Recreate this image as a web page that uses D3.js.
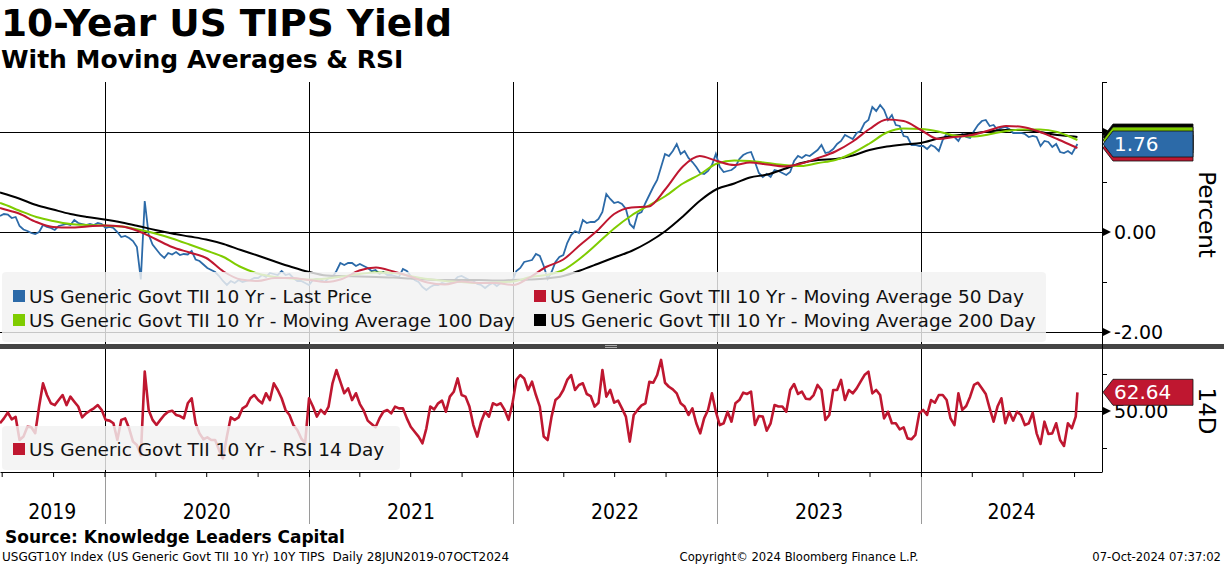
<!DOCTYPE html>
<html>
<head>
<meta charset="utf-8">
<script src="https://cdn.jsdelivr.net/npm/d3@7"></script>
<style>
  body { margin: 0; background: #fff; }
  svg { display: block; }
</style>
</head>
<body>
<svg id="chart" width="1224" height="566"></svg>
<script>
// ---- data ----
// weekly closes (Fridays) starting 28 Jun 2019, 10y TIPS yield in %
var priceStart = "2019-06-28";
var price2019 = [0.32,0.36,0.35,0.28,0.30,0.12,0.05,0.02,-0.02,-0.04,0.00,0.14,0.10,0.08,0.04,0.12,0.14,0.16,0.14,0.24,0.18,0.16,0.14,0.16,0.14,0.18,0.16];
var price2020 = [0.08,0.10,0.08,0.00,-0.10,-0.08,-0.12,-0.18,-0.30,-0.95,0.62,-0.05,-0.25,-0.35,-0.45,-0.52,-0.42,-0.45,-0.40,-0.46,-0.44,-0.45,-0.38,-0.55,-0.58,-0.65,-0.72,-0.76,-0.80,-0.88,-0.98,-1.06,-0.98,-1.02,-0.96,-1.00,-0.98,-0.96,-0.92,-0.92,-0.86,-0.90,-0.82,-0.84,-0.86,-0.78,-0.86,-0.84,-0.92,-0.98,-0.98,-1.02];
var price2021 = [-1.06,-0.96,-0.94,-0.96,-1.00,-0.92,-0.90,-0.78,-0.62,-0.66,-0.62,-0.62,-0.68,-0.64,-0.68,-0.72,-0.78,-0.76,-0.84,-0.80,-0.86,-0.86,-0.88,-0.90,-0.74,-0.78,-0.88,-0.96,-1.00,-1.10,-1.16,-1.10,-1.06,-1.06,-1.02,-1.04,-1.02,-0.98,-0.90,-0.88,-0.92,-0.96,-0.98,-1.04,-1.06,-1.12,-1.06,-1.02,-1.08,-1.02,-1.00,-0.98,-0.98];
var price2022 = [-0.78,-0.72,-0.60,-0.58,-0.56,-0.44,-0.48,-0.68,-0.94,-0.80,-0.60,-0.50,-0.46,-0.22,-0.06,0.02,-0.02,0.24,0.18,0.20,0.20,0.26,0.40,0.76,0.66,0.58,0.60,0.56,0.46,0.16,0.08,0.36,0.40,0.58,0.74,0.90,1.04,1.30,1.56,1.52,1.62,1.76,1.56,1.62,1.48,1.40,1.30,1.18,1.16,1.22,1.34,1.56];
var price2023 = [1.30,1.20,1.22,1.24,1.30,1.46,1.54,1.58,1.60,1.40,1.18,1.10,1.16,1.10,1.24,1.22,1.18,1.14,1.20,1.42,1.52,1.48,1.54,1.52,1.58,1.64,1.74,1.58,1.60,1.66,1.76,1.82,1.94,1.90,1.86,1.98,2.02,2.18,2.24,2.50,2.42,2.54,2.44,2.24,2.34,2.14,2.12,1.92,1.90,1.74,1.74,1.72];
var price2024 = [1.72,1.66,1.74,1.70,1.62,1.84,1.96,1.92,1.90,1.82,1.96,1.90,1.88,2.02,2.14,2.22,2.24,2.12,2.14,2.04,2.08,2.10,2.06,1.98,1.98,1.98,1.96,1.90,1.92,1.90,1.72,1.82,1.80,1.70,1.76,1.60,1.58,1.62,1.56,1.70];

// RSI 14 day, same weekly dates
var rsi2019 = [41.7,45,49,44.4,46,30.4,32.7,39.4,39,35,53,68.7,60.8,55.2,54,57.4,60.8,54,59.7,56.3,53,45.7,48.4,50.2,51.8,54,50.7];
var rsi2020 = [44,43.5,41.7,30.4,44,45,38.3,29.3,27,20,76.6,50.7,44,40.5,44,47.3,49.5,50.2,47.3,46.6,45,55.2,58.6,41.7,34.9,30.9,32.2,30.4,30.4,23.6,18,32.7,45.7,44,45.7,51.8,53.4,58.6,60.8,57.4,55.2,62,57.4,68.7,64.2,58.6,50.7,47.3,40.5,37.2,31.5,28.2];
var rsi2021 = [58.6,53,46.2,50.7,48,53,68.7,77.7,69.8,62,65.3,57.4,62,54.7,50.2,43.5,41.2,39,45,49.5,50.7,48.4,53,51.8,51.8,45,39.4,36,32.7,28.2,38.3,53,51.1,55.2,57,49.5,59.7,63,72,60.8,59.7,53,40.5,32.7,42.8,49.5,46.2,55.2,54,55.2,50.7,44,55];
var rsi2022 = [71,74.3,72,64.2,69.8,60.8,53,32.7,30.4,46.2,57.4,59.7,64.2,71,74.3,64.2,67.6,68.7,61.5,60.1,53,55.6,77.7,59.7,64.2,55.6,57,51.8,46.2,29.3,47.3,50.7,53.8,55.2,69.8,69.1,74.3,84.5,69.1,66.4,64.6,61.9,55.2,53,47.3,51.8,41.7,34.9,45,50.7,61.9,49.5];
var rsi2023 = [40.5,41.7,49.5,42.8,55.2,57.4,62.4,61.5,63.1,40.5,46.6,46.2,36.7,41.7,54,53,53,49.5,64.2,68.2,61.5,63.1,58.3,57.9,60.8,67.6,64.2,43.9,47.3,64.2,64.2,71,57.4,64.2,61.9,65.3,69.8,74.3,76.6,61.9,64.2,60.8,45,49.5,41.7,41.7,37.6,39,31.5,30.9,33.8,48.4];
var rsi2024 = [50.7,47.3,57.4,55.6,60.8,60.8,57.4,45,40.5,61.9,50.7,53.4,59.7,67.6,69.1,65.3,61.5,51.8,42.8,53,58.6,41.7,49.5,43.5,49.5,47.3,40.5,41.7,48.9,34.9,27.7,42.8,34.5,34.9,41.7,30.4,26.4,41.7,38.3,46.2];

var lastDate = "2024-10-07";
var lastPrice = 1.76;
var lastRsi = 62.64;

// moving averages: 28 Jun 2019, then the 1st of each month Jul 2019 .. Oct 2024, then 7 Oct 2024
var ma50 = [0.48, 0.47,0.37,0.20,0.10,0.09,0.11,
  0.13,0.11,0.02,-0.14,-0.30,-0.41,-0.52,-0.79,-0.95,-0.98,-0.92,-0.92,
  -0.96,-1.00,-0.94,-0.77,-0.71,-0.79,-0.89,-1.01,-1.05,-0.99,-1.02,-1.02,
  -1.06,-0.90,-0.70,-0.55,-0.26,0.03,0.36,0.49,0.51,0.86,1.31,1.52,
  1.42,1.34,1.39,1.35,1.31,1.37,1.48,1.61,1.81,2.06,2.25,2.22,
  2.04,1.86,1.90,1.94,2.03,2.12,2.10,2.00,1.86,1.71, 1.68];
var ma100 = [0.58, 0.57,0.43,0.30,0.22,0.16,0.14,
  0.13,0.11,0.05,-0.03,-0.13,-0.25,-0.37,-0.50,-0.70,-0.83,-0.90,-0.93,
  -0.95,-0.93,-0.89,-0.84,-0.81,-0.82,-0.88,-0.94,-0.98,-1.00,-1.02,-1.01,
  -0.99,-0.90,-0.86,-0.76,-0.53,-0.23,0.07,0.33,0.53,0.72,0.97,1.15,
  1.37,1.43,1.42,1.38,1.34,1.32,1.38,1.44,1.58,1.77,1.99,2.07,
  2.06,2.01,1.93,1.91,1.95,2.02,2.05,2.05,2.00,1.87, 1.84];
var ma200 = [0.79, 0.78,0.67,0.54,0.45,0.36,0.30,
  0.25,0.19,0.12,0.04,-0.03,-0.09,-0.15,-0.24,-0.36,-0.47,-0.59,-0.70,
  -0.80,-0.87,-0.88,-0.89,-0.90,-0.91,-0.93,-0.95,-0.96,-0.96,-0.96,-0.97,
  -0.96,-0.95,-0.93,-0.88,-0.77,-0.64,-0.51,-0.38,-0.20,0.02,0.31,0.62,
  0.86,0.97,1.09,1.15,1.26,1.38,1.44,1.46,1.53,1.64,1.71,1.75,
  1.78,1.87,1.93,1.97,2.01,2.04,2.04,2.00,1.94,1.91, 1.90];

var years = ["2019","2020","2021","2022","2023","2024"];
var priceTicks = [3, 2, 1, 0, -1, -2];
var priceGrid = [2, 0, -2];
var priceLabels = [0, -2];
var rsiTicks = [75, 50, 25];
var rsiLabels = [50];

// ---- setup ----
var FONT = "'DejaVu Sans', Verdana, sans-serif";
var COND = "'DejaVu Sans Condensed', 'DejaVu Sans', sans-serif";
var BLUE = "#2c6aa8", RED = "#bf1730", GREEN = "#7fcc00", BLACK = "#000";

var svg = d3.select("#chart");
var parseDate = d3.timeParse("%Y-%m-%d");

var plotRight = 1102, topY0 = 82, topY1 = 344, botY0 = 349, botY1 = 472;

var x = d3.scaleTime()
  .domain([parseDate("2019-06-28"), parseDate("2024-11-20")])
  .range([0, plotRight]);
var yTop = d3.scaleLinear().domain([-2, 2]).range([332, 132]);
var yRsi = d3.scaleLinear().domain([25, 75]).range([448, 374]);

var start = parseDate(priceStart);
var priceVals = [].concat(price2019, price2020, price2021, price2022, price2023, price2024);
var rsiVals = [].concat(rsi2019, rsi2020, rsi2021, rsi2022, rsi2023, rsi2024);
var weekDates = priceVals.map(function(v, i) { return d3.timeDay.offset(start, 7 * i); });

var priceData = priceVals.map(function(v, i) { return [weekDates[i], v]; });
priceData.push([parseDate(lastDate), lastPrice]);
var rsiData = rsiVals.map(function(v, i) { return [weekDates[i], v]; });
rsiData.push([parseDate(lastDate), lastRsi]);

var maDates = [parseDate("2019-06-28")]
  .concat(d3.timeMonth.range(new Date(2019, 6, 1), new Date(2024, 10, 1)))
  .concat([parseDate(lastDate)]);
function maSeries(vals) { return vals.map(function(v, i) { return [maDates[i], v]; }); }

// ---- titles ----
svg.append("text").attr("x", 1).attr("y", 36)
  .style("font-family", FONT).style("font-weight", "bold").style("font-size", "37.5px")
  .text("10-Year US TIPS Yield");
svg.append("text").attr("x", 1).attr("y", 68)
  .style("font-family", FONT).style("font-weight", "bold").style("font-size", "25px")
  .text("With Moving Averages & RSI");

// ---- clips ----
var defs = svg.append("defs");
defs.append("clipPath").attr("id", "clipTop").append("rect")
  .attr("x", 0).attr("y", topY0).attr("width", plotRight).attr("height", topY1 - topY0);
defs.append("clipPath").attr("id", "clipBot").append("rect")
  .attr("x", 0).attr("y", botY0).attr("width", plotRight).attr("height", botY1 - botY0);

// ---- gridlines ----
var grid = svg.append("g").attr("shape-rendering", "crispEdges");
grid.selectAll(".hgTop").data(priceGrid).enter().append("line")
  .attr("x1", 0).attr("x2", plotRight)
  .attr("y1", function(d) { return Math.round(yTop(d)) + 0.5; })
  .attr("y2", function(d) { return Math.round(yTop(d)) + 0.5; })
  .attr("stroke", "#000");
grid.selectAll(".hgBot").data(rsiLabels).enter().append("line")
  .attr("x1", 0).attr("x2", plotRight)
  .attr("y1", function(d) { return Math.round(yRsi(d)) + 0.5; })
  .attr("y2", function(d) { return Math.round(yRsi(d)) + 0.5; })
  .attr("stroke", "#000");
var yearStarts = years.slice(1).map(function(y) { return parseDate(y + "-01-01"); });
grid.selectAll(".vg").data(yearStarts).enter().append("line")
  .attr("x1", function(d) { return Math.round(x(d)) + 0.5; })
  .attr("x2", function(d) { return Math.round(x(d)) + 0.5; })
  .attr("y1", topY0).attr("y2", botY1)
  .attr("stroke", "#000");
grid.selectAll(".vgAxis").data(yearStarts).enter().append("line")
  .attr("x1", function(d) { return Math.round(x(d)) + 0.5; })
  .attr("x2", function(d) { return Math.round(x(d)) + 0.5; })
  .attr("y1", botY1).attr("y2", 524)
  .attr("stroke", "#9a9a9a");

// ---- top panel lines ----
var line = d3.line()
  .x(function(d) { return x(d[0]); })
  .y(function(d) { return yTop(d[1]); });
var smooth = d3.line()
  .x(function(d) { return x(d[0]); })
  .y(function(d) { return yTop(d[1]); })
  .curve(d3.curveMonotoneX);

var topG = svg.append("g").attr("clip-path", "url(#clipTop)");
topG.append("path").datum(priceData).attr("d", line)
  .attr("fill", "none").attr("stroke", BLUE).attr("stroke-width", 1.8);
topG.append("path").datum(maSeries(ma200)).attr("d", smooth)
  .attr("fill", "none").attr("stroke", BLACK).attr("stroke-width", 2);
topG.append("path").datum(maSeries(ma100)).attr("d", smooth)
  .attr("fill", "none").attr("stroke", GREEN).attr("stroke-width", 2);
topG.append("path").datum(maSeries(ma50)).attr("d", smooth)
  .attr("fill", "none").attr("stroke", RED).attr("stroke-width", 2);

// ---- bottom panel line ----
var rsiLine = d3.line()
  .x(function(d) { return x(d[0]); })
  .y(function(d) { return yRsi(d[1]); });
svg.append("g").attr("clip-path", "url(#clipBot)")
  .append("path").datum(rsiData).attr("d", rsiLine)
  .attr("fill", "none").attr("stroke", RED).attr("stroke-width", 2.6)
  .attr("stroke-linejoin", "round");

// ---- legends ----
var legTop = [
  { name: "US Generic Govt TII 10 Yr - Last Price", color: BLUE, col: 0, row: 0 },
  { name: "US Generic Govt TII 10 Yr - Moving Average 50 Day", color: RED, col: 1, row: 0 },
  { name: "US Generic Govt TII 10 Yr - Moving Average 100 Day", color: GREEN, col: 0, row: 1 },
  { name: "US Generic Govt TII 10 Yr - Moving Average 200 Day", color: BLACK, col: 1, row: 1 }
];
svg.append("rect").attr("x", 2).attr("y", 272).attr("width", 1044).attr("height", 70)
  .attr("rx", 4).attr("fill", "#f2f2f2").attr("fill-opacity", 0.82);
var lt = svg.append("g").selectAll("g").data(legTop).enter().append("g")
  .attr("transform", function(d) { return "translate(" + (d.col ? 534 : 13) + "," + (290 + d.row * 24) + ")"; });
lt.append("rect").attr("width", 12).attr("height", 12).attr("fill", function(d) { return d.color; });
lt.append("text").attr("x", 16).attr("y", 13)
  .style("font-family", FONT).style("font-size", "18.5px").style("fill", "#111")
  .text(function(d) { return d.name; });

svg.append("rect").attr("x", 2).attr("y", 426).attr("width", 398).attr("height", 44)
  .attr("rx", 4).attr("fill", "#f2f2f2").attr("fill-opacity", 0.82);
var lb = svg.append("g").attr("transform", "translate(13,443)");
lb.append("rect").attr("width", 12).attr("height", 12).attr("fill", RED);
lb.append("text").attr("x", 16).attr("y", 13)
  .style("font-family", FONT).style("font-size", "18.5px").style("fill", "#111")
  .text("US Generic Govt TII 10 Yr - RSI 14 Day");

// ---- separator between panels ----
svg.append("rect").attr("x", 0).attr("y", 344).attr("width", 1224).attr("height", 5).attr("fill", "#454545");
svg.append("line").attr("x1", 605).attr("x2", 617).attr("y1", 345.5).attr("y2", 345.5).attr("stroke", "#aaa");
svg.append("line").attr("x1", 605).attr("x2", 617).attr("y1", 347.5).attr("y2", 347.5).attr("stroke", "#aaa");

// ---- right axes ----
function fmt(labels) { return function(d) { return labels.indexOf(d) >= 0 ? d.toFixed(2) : ""; }; }
var axTop = svg.append("g").attr("transform", "translate(" + plotRight + ",0)")
  .call(d3.axisRight(yTop).tickValues(priceTicks).tickSize(5).tickPadding(7).tickFormat(fmt(priceLabels)));
var axBot = svg.append("g").attr("transform", "translate(" + plotRight + ",0)")
  .call(d3.axisRight(yRsi).tickValues(rsiTicks).tickSize(5).tickPadding(7).tickFormat(fmt(rsiLabels)));
[axTop, axBot].forEach(function(a) {
  a.select(".domain").remove();
  a.selectAll("text").style("font-family", FONT).style("font-size", "19px").style("fill", "#000");
  a.selectAll("line").attr("stroke", "#000");
});
svg.append("line").attr("x1", plotRight + 0.5).attr("x2", plotRight + 0.5)
  .attr("y1", topY0).attr("y2", botY1).attr("stroke", "#000");

var marks = priceGrid.map(function(d) { return yTop(d); }).concat(rsiLabels.map(function(d) { return yRsi(d); }));
svg.selectAll(".tri").data(marks).enter().append("path")
  .attr("d", function(y) { return "M" + (plotRight + 1) + "," + (y - 4) + "L" + (plotRight + 9) + "," + y + "L" + (plotRight + 1) + "," + (y + 4) + "Z"; })
  .attr("fill", "#000");

// value tags
function tagPath(y) {
  var l = plotRight + 1, n = plotRight + 11, r = 1193, h = 13;
  return "M" + l + "," + y + "L" + n + "," + (y - h) + "L" + r + "," + (y - h) +
    "L" + r + "," + (y + h) + "L" + n + "," + (y + h) + "Z";
}
var tags = [
  { v: ma200[ma200.length - 1], color: BLACK },
  { v: ma100[ma100.length - 1], color: GREEN },
  { v: ma50[ma50.length - 1], color: RED },
  { v: lastPrice, color: BLUE }
];
svg.selectAll(".tag").data(tags).enter().append("path")
  .attr("d", function(d) { return tagPath(yTop(d.v)); })
  .attr("fill", function(d) { return d.color; })
  .attr("stroke", "#111").attr("stroke-width", 0.8);
svg.append("text").attr("x", 1114).attr("y", yTop(lastPrice) + 7)
  .style("font-family", FONT).style("font-size", "20px").style("fill", "#fff")
  .text(lastPrice.toFixed(2));

svg.append("path").attr("d", tagPath(yRsi(lastRsi)))
  .attr("fill", RED).attr("stroke", "#111").attr("stroke-width", 0.8);
svg.append("text").attr("x", 1114).attr("y", yRsi(lastRsi) + 7)
  .style("font-family", FONT).style("font-size", "20px").style("fill", "#fff")
  .text(lastRsi.toFixed(2));

// axis titles on the right
svg.append("text").attr("transform", "translate(1199," + yTop(0.35) + ") rotate(90)")
  .attr("text-anchor", "middle")
  .style("font-family", FONT).style("font-size", "23px")
  .text("Percent");
svg.append("text").attr("transform", "translate(1199," + yRsi(50) + ") rotate(90)")
  .attr("text-anchor", "middle")
  .style("font-family", FONT).style("font-size", "23px")
  .text("14D");

// ---- x axis ----
var xa = svg.append("g").attr("transform", "translate(0," + botY1 + ")")
  .call(d3.axisBottom(x).ticks(d3.timeMonth.every(3)).tickSize(5).tickSizeOuter(0).tickFormat(""));
xa.selectAll("line").attr("stroke", "#000");
xa.select(".domain").attr("stroke", "#000");

var dom = x.domain();
svg.selectAll(".year").data(years).enter().append("text")
  .attr("x", function(y) {
    var a = parseDate(y + "-01-01"), b = parseDate((+y + 1) + "-01-01");
    if (a < dom[0]) a = dom[0];
    if (b > dom[1]) b = dom[1];
    return (x(a) + x(b)) / 2;
  })
  .attr("y", 519)
  .attr("text-anchor", "middle")
  .style("font-family", COND).style("font-stretch", "condensed").style("font-size", "21px")
  .text(function(y) { return y; });

// ---- footer ----
svg.append("text").attr("x", 5).attr("y", 543)
  .style("font-family", FONT).style("font-weight", "bold").style("font-size", "17px")
  .text("Source: Knowledge Leaders Capital");
var foot = svg.append("g")
  .style("font-family", FONT).style("font-size", "11.6px");
foot.append("text").attr("x", 2).attr("y", 561).style("font-size", "12px")
  .text("USGGT10Y Index (US Generic Govt TII 10 Yr) 10Y TIPS  Daily 28JUN2019-07OCT2024")
  .attr("xml:space", "preserve");
foot.append("text").attr("x", 799).attr("y", 561).attr("text-anchor", "middle")
  .text("Copyright\u00a9 2024 Bloomberg Finance L.P.");
foot.append("text").attr("x", 1221).attr("y", 561).attr("text-anchor", "end")
  .text("07-Oct-2024 07:37:02");
</script>
</body>
</html>
